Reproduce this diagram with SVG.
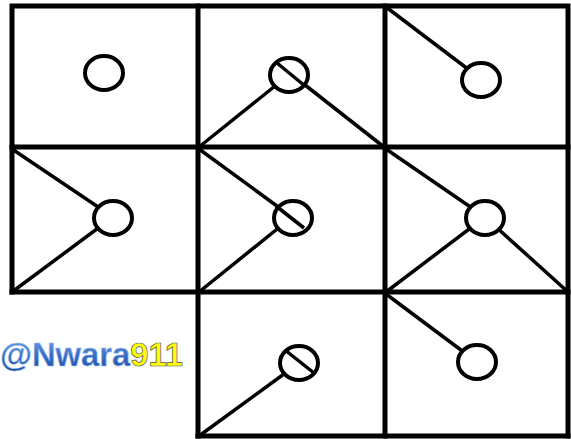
<svg xmlns="http://www.w3.org/2000/svg" width="571" height="439" viewBox="0 0 571 439">
<defs>
<linearGradient id="blu" x1="0" y1="0" x2="0" y2="1">
<stop offset="0" stop-color="#7aa6e6"/>
<stop offset="0.5" stop-color="#3b6fc6"/>
<stop offset="1" stop-color="#1d4c9e"/>
</linearGradient>
</defs>
<style>
.g{stroke:#000;stroke-width:5;fill:none;stroke-linecap:square}
.d{stroke:#000;stroke-width:3.5;fill:none}
.c{stroke:#000;stroke-width:4;fill:#fff}
.wm{font-family:"Liberation Sans",Arial,sans-serif;font-weight:bold;font-size:33px}
</style>
<g id="grid">
<rect class="g" x="12" y="6" width="556" height="141"/>
<line class="g" x1="12" y1="147" x2="12" y2="292"/>
<line class="g" x1="12" y1="292" x2="568" y2="292"/>
<line class="g" x1="568" y1="147" x2="568" y2="436"/>
<line class="g" x1="198" y1="6" x2="198" y2="436"/>
<line class="g" x1="385" y1="6" x2="385" y2="436"/>
<line class="g" x1="198" y1="436" x2="568" y2="436"/>
</g>
<g id="connectors">
<line class="d" x1="199" y1="147" x2="290" y2="74"/>
<line class="d" x1="384" y1="147" x2="277" y2="63"/>
<line class="d" x1="386" y1="7" x2="481" y2="79"/>
<line class="d" x1="12" y1="149" x2="113" y2="217"/>
<line class="d" x1="12" y1="292" x2="113" y2="217"/>
<line class="d" x1="199" y1="149" x2="292" y2="217"/>
<line class="d" x1="199" y1="292" x2="292" y2="217"/>
<line class="d" x1="386" y1="149" x2="485" y2="217"/>
<line class="d" x1="386" y1="292" x2="485" y2="217"/>
<line class="d" x1="568" y1="292" x2="485" y2="217"/>
<line class="d" x1="199" y1="436" x2="299" y2="363"/>
<line class="d" x1="386" y1="294" x2="477" y2="362"/>
</g>
<g id="n1"><ellipse class="c" cx="104" cy="73" rx="19" ry="17"/></g>
<g id="n2"><ellipse class="c" cx="289" cy="75" rx="19" ry="17"/><line class="d" x1="277" y1="63" x2="305" y2="86"/></g>
<g id="n3"><ellipse class="c" cx="481" cy="80" rx="19" ry="17"/></g>
<g id="n4"><ellipse class="c" cx="113" cy="218" rx="19" ry="17"/></g>
<g id="n5"><ellipse class="c" cx="293" cy="218" rx="19" ry="17"/><line class="d" x1="276" y1="206" x2="304" y2="228"/></g>
<g id="n6"><ellipse class="c" cx="485" cy="218" rx="19" ry="17"/></g>
<g id="n7"><ellipse class="c" cx="299" cy="363" rx="19" ry="17"/><line class="d" x1="285" y1="350" x2="314" y2="373"/></g>
<g id="n8"><ellipse class="c" cx="477" cy="362" rx="19" ry="17"/></g>
<text class="wm" x="0" y="366" textLength="183" lengthAdjust="spacingAndGlyphs"><tspan fill="url(#blu)" stroke="#9cc0f0" stroke-width="0.6">@Nwara</tspan><tspan fill="#ffff00" stroke="#556" stroke-width="0.7">911</tspan></text>
</svg>
